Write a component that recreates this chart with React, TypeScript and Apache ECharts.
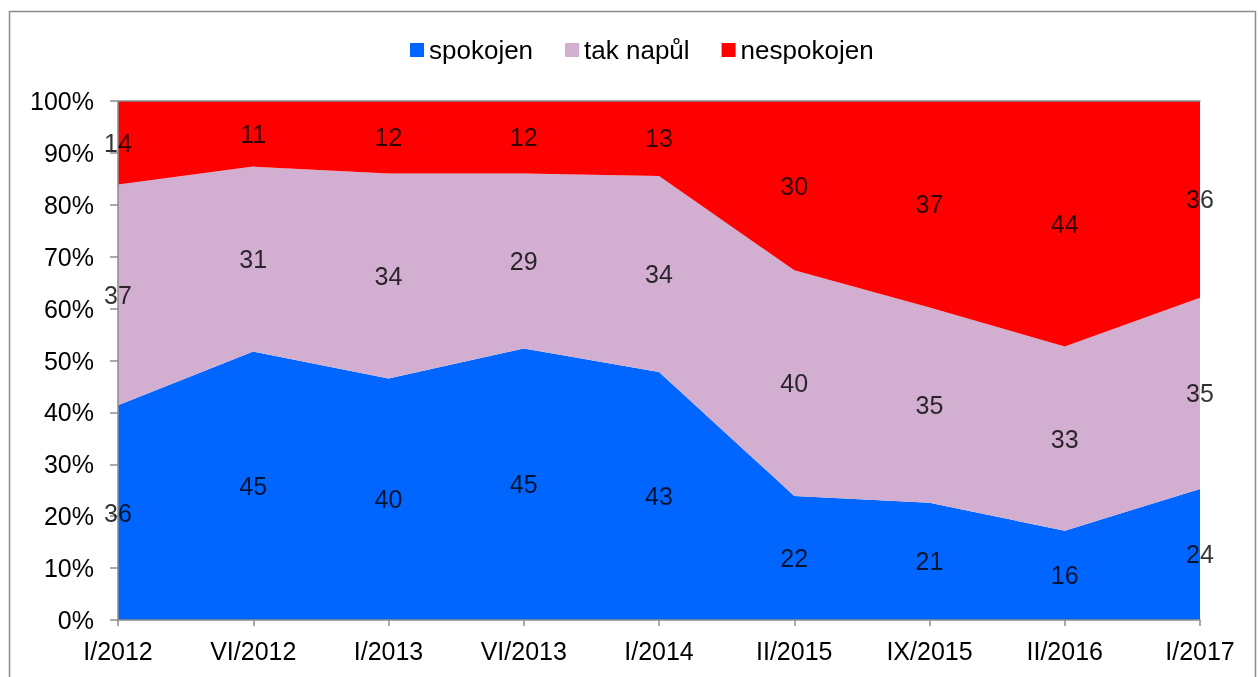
import React, { useEffect, useRef } from "react";
import * as echarts from "echarts";

const categories = ["I/2012", "VI/2012", "I/2013", "VI/2013", "I/2014", "II/2015", "IX/2015", "II/2016", "I/2017"];
const spokojen = [36, 45, 40, 45, 43, 22, 21, 16, 24];
const takNapul = [37, 31, 34, 29, 34, 40, 35, 33, 35];
const nespokojen = [14, 11, 12, 12, 13, 30, 37, 44, 36];
const seriesNames = ["spokojen", "tak napůl", "nespokojen"];
const seriesColors = ["#0066FF", "#D2AED0", "#FF0000"];
const yTicks = [0, 10, 20, 30, 40, 50, 60, 70, 80, 90, 100];

export default function App() {
  const ref = useRef<HTMLDivElement>(null);
  useEffect(() => {
    const chart = echarts.init(ref.current!, null, { renderer: "svg" });
    const raw = [spokojen, takNapul, nespokojen];
    const totals = categories.map((_, i) => raw.reduce((s, a) => s + a[i], 0));
    const pct = raw.map((arr) => arr.map((v, i) => (v / totals[i]) * 100));
    const labelData: any[] = [];
    categories.forEach((c, i) => {
      let base = 0;
      raw.forEach((arr, k) => {
        const p = pct[k][i];
        labelData.push([c, base + p / 2, arr[i]]);
        base += p;
      });
    });
    const font = "'Liberation Sans', Arial, sans-serif";
    const fs = 25;
    chart.setOption({
      animation: false,
      textStyle: { fontFamily: font },
      graphic: [
        {
          type: "rect",
          shape: { x: 9.5, y: 11.5, width: 1246, height: 700 },
          style: { fill: "none", stroke: "#8c8c8c", lineWidth: 1.5 },
          silent: true,
        },
      ],
      legend: {
        top: 32,
        left: 405,
        itemWidth: 14,
        itemHeight: 14,
        itemGap: 32,
        icon: "rect",
        textStyle: { fontSize: 26, color: "#000", fontFamily: font },
        data: seriesNames,
      },
      grid: { left: 118, right: 59, top: 101, bottom: 57, containLabel: false },
      xAxis: [
        {
          type: "category",
          data: categories,
          boundaryGap: false,
          axisLine: { lineStyle: { color: "#8c8c8c", width: 1.5 } },
          axisTick: { show: true, length: 6, lineStyle: { color: "#8c8c8c", width: 1.5 } },
          axisLabel: { fontSize: fs, color: "#000", margin: 18, fontFamily: font },
          splitLine: { show: false },
          z: 20,
        },
        {
          type: "category",
          data: categories,
          position: "top",
          boundaryGap: false,
          axisLine: { show: true, lineStyle: { color: "#8c8c8c", width: 1.5 } },
          axisTick: { show: false },
          axisLabel: { show: false },
          splitLine: { show: false },
          z: 20,
        },
      ],
      yAxis: {
        type: "value",
        min: yTicks[0],
        max: yTicks[yTicks.length - 1],
        interval: 10,
        axisLine: { show: true, lineStyle: { color: "#8c8c8c", width: 1.5 } },
        axisTick: { show: true, length: 8, lineStyle: { color: "#8c8c8c", width: 1.5 } },
        axisLabel: { fontSize: fs, color: "#000", margin: 24, formatter: "{value}%", fontFamily: font },
        splitLine: { show: false },
        z: 20,
      },
      series: [
        ...pct.map((arr, k) => ({
          name: seriesNames[k],
          type: "line",
          stack: "total",
          data: arr,
          showSymbol: false,
          symbol: "none",
          lineStyle: { width: 0 },
          itemStyle: { color: seriesColors[k] },
          areaStyle: { color: seriesColors[k], opacity: 1 },
          z: 2,
        })),
        {
          name: "labels",
          type: "scatter",
          data: labelData,
          symbolSize: 1,
          itemStyle: { color: "rgba(0,0,0,0)" },
          label: {
            show: true,
            position: "inside",
            formatter: (p: any) => String(p.value[2]),
            fontSize: fs,
            color: "#000",
            fontFamily: font,
          },
          z: 30,
        },
      ],
    });
    return () => chart.dispose();
  }, []);
  return <div ref={ref} style={{ position: "fixed", left: 0, top: 0, width: 1259, height: 677 }} />;
}
